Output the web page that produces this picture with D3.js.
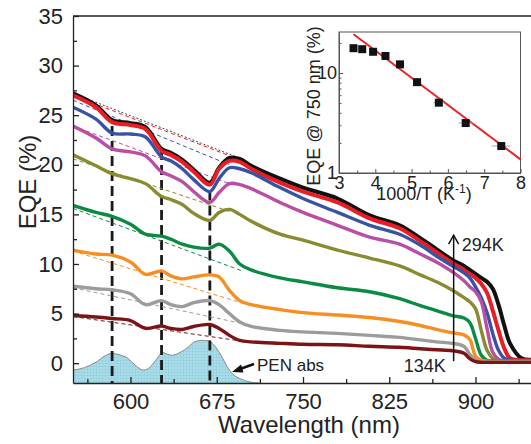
<!DOCTYPE html>
<html>
<head>
<meta charset="utf-8">
<script src="https://cdn.jsdelivr.net/npm/d3@7"></script>
<style>
  body { margin: 0; background: #fff; }
  text { font-family: "Liberation Sans", Arial, sans-serif; fill: #222; }
</style>
</head>
<body>
<div id="chart"></div>
<script>
// wavelength grid (nm) shared by all EQE curves
var wavelength = [550, 570, 584, 600, 613, 627, 635, 645, 655, 669, 677, 686, 695, 705, 730, 750, 780, 808, 834, 852, 866, 880, 890, 895, 900, 905, 910, 915, 920, 925, 930, 940, 950];

var eqe294 = [27.2, 26.0, 24.5, 24.2, 23.8, 21.6, 21.2, 20.5, 19.5, 18.2, 19.7, 20.7, 20.6, 19.9, 18.6, 17.7, 16.6, 14.9, 13.9, 12.6, 11.5, 10.4, 9.8, 9.4, 9.0, 8.6, 8.2, 7.5, 5.9, 3.8, 2.0, 0.5, 0.35];
var eqeRed = [27.0, 25.8, 24.3, 24.0, 23.6, 21.4, 21.0, 20.3, 19.3, 18.0, 19.6, 20.4, 20.3, 19.6, 18.2, 17.3, 16.2, 14.6, 13.6, 12.3, 11.2, 10.1, 9.4, 9.0, 8.6, 8.0, 7.1, 5.3, 3.3, 1.5, 0.5, 0.3, 0.3];
var eqeBlue = [25.8, 24.6, 23.2, 23.1, 22.8, 20.8, 20.4, 19.6, 18.5, 17.3, 18.6, 19.7, 19.6, 19.2, 17.7, 16.6, 15.2, 13.9, 13.0, 11.9, 10.8, 9.8, 9.1, 8.6, 7.7, 6.6, 5.1, 3.0, 1.3, 0.5, 0.3, 0.27, 0.27];
var eqeMagenta = [23.9, 22.7, 21.6, 21.3, 20.9, 19.3, 18.9, 18.3, 17.3, 16.2, 17.2, 18.1, 18.0, 17.6, 16.2, 15.2, 13.9, 12.7, 12.0, 11.0, 10.2, 9.2, 8.3, 7.7, 7.2, 6.2, 3.5, 1.1, 0.4, 0.25, 0.23, 0.23, 0.23];
var eqeOlive = [21.0, 19.9, 19.1, 18.6, 18.1, 16.8, 16.5, 16.0, 15.1, 14.4, 15.2, 15.5, 15.0, 14.3, 13.0, 12.4, 11.4, 10.6, 9.8, 8.9, 8.2, 7.35, 6.6, 6.2, 5.5, 3.3, 1.3, 0.5, 0.25, 0.2, 0.2, 0.2, 0.2];
var eqeGreen = [15.9, 15.2, 14.8, 14.0, 13.0, 12.8, 12.5, 12.0, 11.7, 11.6, 12.0, 11.3, 10.0, 9.4, 8.6, 8.2, 7.6, 7.2, 6.5, 5.8, 5.3, 4.8, 4.55, 4.1, 2.5, 0.8, 0.3, 0.2, 0.17, 0.17, 0.17, 0.17, 0.17];
var eqeOrange = [11.4, 11.0, 10.9, 10.2, 8.95, 9.3, 8.8, 8.5, 8.7, 8.9, 8.7, 7.35, 6.3, 5.9, 5.4, 5.1, 4.85, 4.6, 4.2, 3.8, 3.4, 3.05, 2.85, 2.4, 0.7, 0.3, 0.2, 0.15, 0.15, 0.15, 0.15, 0.15, 0.15];
var eqeGray = [7.75, 7.5, 7.4, 7.0, 5.9, 6.3, 5.9, 5.7, 6.1, 6.3, 5.9, 5.0, 4.15, 3.7, 3.3, 3.15, 3.0, 2.8, 2.6, 2.35, 2.15, 2.0, 1.7, 0.9, 0.3, 0.12, 0.12, 0.12, 0.12, 0.12, 0.12, 0.12, 0.12];
var eqe134 = [4.8, 4.65, 4.5, 4.3, 3.5, 3.75, 3.5, 3.4, 3.7, 3.9, 3.5, 2.8, 2.3, 2.15, 2.0, 1.9, 1.85, 1.7, 1.6, 1.45, 1.35, 1.25, 1.0, 0.45, 0.15, 0.08, 0.08, 0.08, 0.08, 0.08, 0.08, 0.08, 0.08];

var curveColors = ["#111111", "#ec1c24", "#3953a4", "#b84fa3", "#8a8a30", "#0b8a44", "#f68e22", "#9c9c9c", "#7b1416"];
var curveValues = [eqe294, eqeRed, eqeBlue, eqeMagenta, eqeOlive, eqeGreen, eqeOrange, eqeGray, eqe134];

// thin dashed baselines under each curve (start at 550 nm)
var baseStart = [27.2, 27.0, 26.5, 23.9, 20.6, 15.6, 11.3, 7.6, 4.7];
var baseEndWl = [692, 684, 686, 686, 686, 697, 700, 697, 692];
var baseEnd = [20.8, 21.0, 20.0, 18.1, 15.3, 9.3, 5.95, 4.0, 2.3];

// vertical markers
var markerWl = [584, 627, 669];
var markerTop = [23.9, 21.5, 17.4];

// PEN absorption (arb., plotted on EQE axis)
var penWl = [550, 560, 570, 578, 584, 590, 597, 605, 611, 616, 622, 628, 632, 636, 644, 650, 655, 662, 668, 672, 676, 681, 686, 691, 696, 704, 712];
var penAbs = [-0.7, -0.45, 0.1, 0.75, 1.0, 0.85, 0.55, -0.3, -0.7, -0.5, 0.3, 1.07, 0.9, 0.8, 1.14, 1.6, 2.1, 2.3, 2.25, 1.9, 1.3, 0.3, -0.7, -1.3, -1.6, -1.9, -2.0];

// inset: EQE at 750 nm vs 1000/T
var invT = [3.40, 3.64, 3.94, 4.28, 4.68, 5.15, 5.75, 6.49, 7.47];
var eqe750 = [17.7, 17.3, 16.3, 14.8, 12.2, 8.1, 5.05, 3.16, 1.86];
var invTErr = [0, 0, 0, 0, 0.08, 0.12, 0.15, 0.2, 0.27];
var fitX = [3.4, 8];
var fitY = [24.4, 1.37];

var W = 531, H = 444;
var svg = d3.select("#chart").append("svg").attr("width", W).attr("height", H);

var mLeft = 73, mTop = 16, mBottom = 383;
var x = d3.scaleLinear().domain([550, 950]).range([mLeft, mLeft + 460]);
var y = d3.scaleLinear().domain([-2, 35]).range([mBottom, mTop]);

// pattern for PEN fill
var defs = svg.append("defs");
var pat = defs.append("pattern").attr("id", "grid").attr("width", 3).attr("height", 3)
    .attr("patternUnits", "userSpaceOnUse");
pat.append("rect").attr("width", 3).attr("height", 3).attr("fill", "#a9dde9");
pat.append("path").attr("d", "M0,0.5H3M0.5,0V3").attr("stroke", "#93cfdd").attr("stroke-width", 0.6);
defs.append("clipPath").attr("id", "clip").append("rect")
    .attr("x", mLeft).attr("y", mTop).attr("width", 460).attr("height", mBottom - mTop);

var plot = svg.append("g").attr("clip-path", "url(#clip)");

// PEN abs area
var penData = penWl.map(function(d, i) { return [d, penAbs[i]]; });
plot.append("path")
    .datum(penData)
    .attr("fill", "url(#grid)")
    .attr("d", d3.area().x(d => x(d[0])).y0(y(-2)).y1(d => y(d[1])).curve(d3.curveMonotoneX));
plot.append("path")
    .datum(penData)
    .attr("fill", "none").attr("stroke", "#8a8a8a").attr("stroke-width", 1)
    .attr("d", d3.line().x(d => x(d[0])).y(d => y(d[1])).curve(d3.curveMonotoneX));

// vertical dashed markers
plot.selectAll(".marker").data(markerWl).join("line")
    .attr("x1", d => x(d)).attr("x2", d => x(d))
    .attr("y1", (d, i) => y(markerTop[i])).attr("y2", y(-2))
    .attr("stroke", "#1a1a1a").attr("stroke-width", 2.8).attr("stroke-dasharray", "10,5");

// dashed baselines
curveColors.forEach(function(c, i) {
    plot.append("line")
        .attr("x1", x(550)).attr("y1", y(baseStart[i]))
        .attr("x2", x(baseEndWl[i])).attr("y2", y(baseEnd[i]))
        .attr("stroke", c).attr("stroke-width", i == 0 ? 0.8 : 1)
        .attr("stroke-dasharray", i == 0 ? "2,2" : "4,3");
});

// EQE curves, 294 K drawn first
var line = d3.line().x((d, i) => x(wavelength[i])).y(d => y(d)).curve(d3.curveCatmullRom.alpha(0.5));
curveValues.forEach(function(vals, i) {
    plot.append("path")
        .datum(vals)
        .attr("fill", "none")
        .attr("stroke", curveColors[i])
        .attr("stroke-width", i < 2 ? 4 : 3.4)
        .attr("stroke-linejoin", "round")
        .attr("d", line);
});

// axes
var xAxis = svg.append("g").attr("transform", "translate(0," + mBottom + ")")
    .call(d3.axisBottom(x).tickValues([600, 675, 750, 825, 900]).tickSizeInner(-6).tickSizeOuter(0).tickPadding(10));
xAxis.selectAll(".tick text").style("font-size", "22px");
svg.append("g").attr("transform", "translate(0," + mBottom + ")")
    .call(d3.axisBottom(x).tickValues([562.5, 637.5, 712.5, 787.5, 862.5, 937.5]).tickSize(-4).tickFormat(""))
    .select(".domain").remove();

var yAxis = svg.append("g").attr("transform", "translate(" + mLeft + ",0)")
    .call(d3.axisLeft(y).tickValues([0, 5, 10, 15, 20, 25, 30, 35]).tickSizeInner(-6).tickSizeOuter(0).tickPadding(10));
yAxis.selectAll(".tick text").style("font-size", "22px");
svg.append("g").attr("transform", "translate(" + mLeft + ",0)")
    .call(d3.axisLeft(y).tickValues([2.5, 7.5, 12.5, 17.5, 22.5, 27.5, 32.5]).tickSize(-4).tickFormat(""))
    .select(".domain").remove();
svg.selectAll(".domain, .tick line").attr("stroke", "#222").attr("stroke-width", 1.3);

// top border
svg.append("line").attr("x1", mLeft).attr("x2", W).attr("y1", mTop).attr("y2", mTop)
    .attr("stroke", "#222").attr("stroke-width", 1.3);

svg.append("text").attr("x", x(750) + 6).attr("y", 433).attr("text-anchor", "middle")
    .style("font-size", "24px").text("Wavelength (nm)");
svg.append("text").attr("transform", "translate(36,182) rotate(-90)").attr("text-anchor", "middle")
    .style("font-size", "24px").text("EQE (%)");

// annotations
svg.append("text").attr("x", 257).attr("y", 371).style("font-size", "17px").text("PEN abs");
svg.append("line").attr("x1", 254).attr("y1", 364).attr("x2", 240).attr("y2", 369)
    .attr("stroke", "#111").attr("stroke-width", 2.5);
svg.append("path").attr("d", "M232,372 L241,364.5 L243.5,372.5 Z").attr("fill", "#111");

var ax = x(881);
svg.append("line").attr("x1", ax).attr("x2", ax).attr("y1", y(0.2)).attr("y2", y(12.9))
    .attr("stroke", "#111").attr("stroke-width", 1.5);
svg.append("path").attr("d", "M" + (ax - 5) + "," + (y(12.9) + 9) + "L" + ax + "," + y(12.9) + "L" + (ax + 5) + "," + (y(12.9) + 9))
    .attr("fill", "none").attr("stroke", "#111").attr("stroke-width", 1.5);
svg.append("text").attr("x", ax + 8).attr("y", 251).style("font-size", "18px").text("294K");
svg.append("text").attr("x", ax - 50).attr("y", 372).style("font-size", "18px").text("134K");

// inset
var iL = 339, iR = 520.5, iT = 32, iB = 173;
var ix = d3.scaleLinear().domain([3, 8]).range([iL, iR]);
var iy = d3.scaleLog().domain([1, 25.7]).range([iB, iT]);

var inset = svg.append("g");
inset.append("rect").attr("x", iL).attr("y", iT).attr("width", iR - iL).attr("height", iB - iT)
    .attr("fill", "#fff").attr("stroke", "#555").attr("stroke-width", 1);

inset.append("g").attr("transform", "translate(0," + iB + ")")
    .call(d3.axisBottom(ix).tickValues([3, 4, 5, 6, 7, 8]).tickSizeInner(-4).tickSizeOuter(0).tickPadding(3).tickFormat(d3.format("d")))
    .call(g => g.selectAll(".tick text").style("font-size", "18px"));
inset.append("g").attr("transform", "translate(0," + iB + ")")
    .call(d3.axisBottom(ix).tickValues([3.5, 4.5, 5.5, 6.5, 7.5]).tickSize(-2.5).tickFormat(""))
    .select(".domain").remove();
inset.append("g").attr("transform", "translate(" + iL + ",0)")
    .call(d3.axisLeft(iy).tickValues([1, 10]).tickSizeInner(-4).tickSizeOuter(0).tickPadding(2).tickFormat(d3.format("d")))
    .call(g => g.selectAll(".tick text").style("font-size", "18px"));
inset.append("g").attr("transform", "translate(" + iL + ",0)")
    .call(d3.axisLeft(iy).tickValues([2, 3, 4, 5, 6, 7, 8, 9, 20]).tickSize(-2.5).tickFormat(""))
    .select(".domain").remove();
inset.selectAll(".domain, .tick line").attr("stroke", "#555").attr("stroke-width", 1);

// fit line
inset.append("line")
    .attr("x1", ix(fitX[0])).attr("y1", iy(fitY[0]))
    .attr("x2", ix(fitX[1])).attr("y2", iy(fitY[1]))
    .attr("stroke", "#e8262a").attr("stroke-width", 2);

// error bars + points
inset.selectAll(".err").data(invT).join("line")
    .attr("x1", (d, i) => ix(d - invTErr[i])).attr("x2", (d, i) => ix(d + invTErr[i]))
    .attr("y1", (d, i) => iy(eqe750[i])).attr("y2", (d, i) => iy(eqe750[i]))
    .attr("stroke", "#aaa").attr("stroke-width", 1);
inset.selectAll(".pt").data(invT).join("rect")
    .attr("x", d => ix(d) - 4).attr("y", (d, i) => iy(eqe750[i]) - 4)
    .attr("width", 8).attr("height", 8).attr("fill", "#111");

inset.append("text").attr("x", 424).attr("y", 200).attr("text-anchor", "middle")
    .style("font-size", "18px")
    .html('1000/T (K<tspan dy="-7" font-size="12px">-1</tspan><tspan dy="7">)</tspan>');
inset.append("text").attr("transform", "translate(320,106) rotate(-90)").attr("text-anchor", "middle")
    .style("font-size", "18px").text("EQE @ 750 nm (%)");
</script>
</body>
</html>
